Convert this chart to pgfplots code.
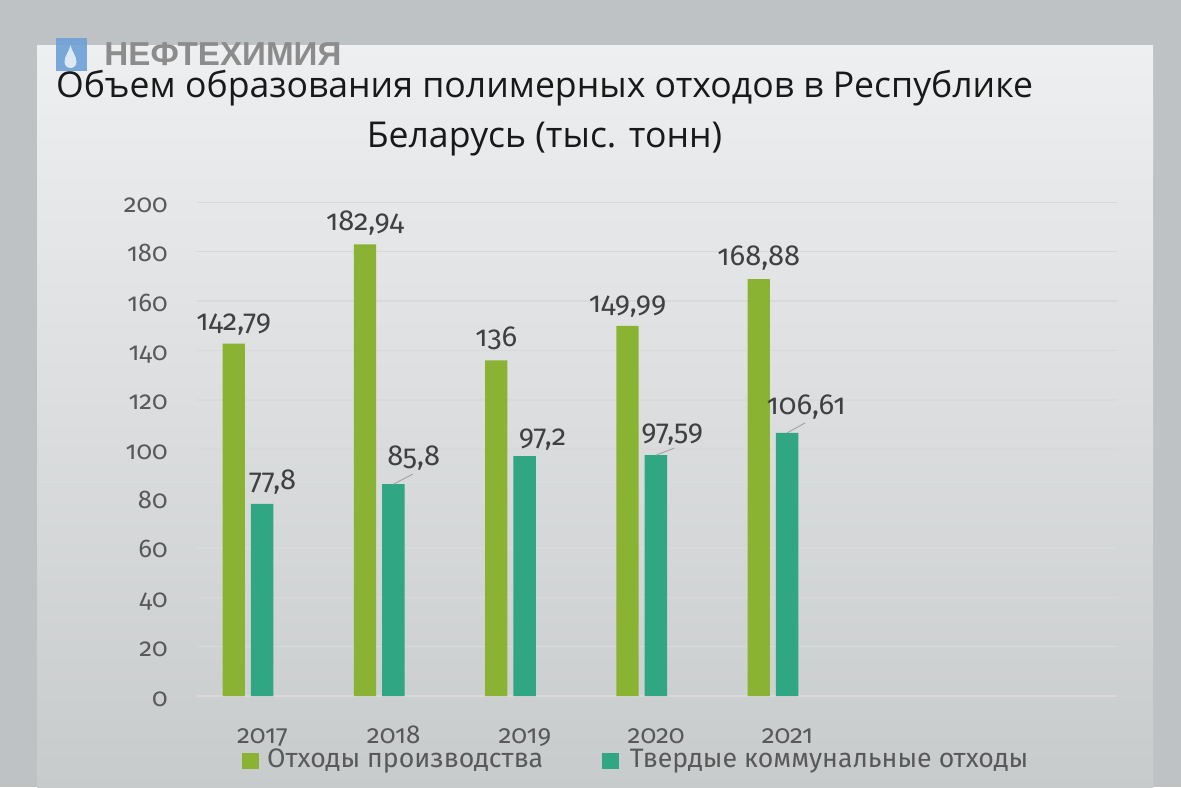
\documentclass[border=0pt]{standalone}
\usepackage{fontspec}
\setmainfont{Fira Sans}[Numbers=OldStyle]
\newfontfamily\titlefont{Open Sans}
\newfontfamily\logofont{Liberation Sans}
\usepackage{pgfplots}
\usepackage{pgfplotstable}
\pgfplotsset{compat=1.18}

\definecolor{bgout}{RGB}{190,194,196}
\definecolor{paneltop}{RGB}{238,239,240}
\definecolor{panelmid}{RGB}{237,238,238}
\definecolor{panelbot}{RGB}{200,203,204}
\definecolor{cprod}{RGB}{138,179,52}
\definecolor{ctko}{RGB}{49,166,131}
\definecolor{lbl}{RGB}{64,64,64}
\definecolor{tickc}{RGB}{89,89,89}
\definecolor{gridc}{RGB}{217,217,217}
\definecolor{logoblue}{RGB}{108,160,214}
\definecolor{logogray}{RGB}{140,140,140}

% Отходы производства
\pgfplotstableread{
x y label
0 142.79 142,79
1 182.94 182,94
2 136    136
3 149.99 149,99
4 168.88 168,88
}\tblprod

% Твердые коммунальные отходы (dx, dy: label offset in pt)
\pgfplotstableread{
x y label dx dy
0 77.8   77,8   5.25  7
1 85.8   85,8   10.15 9.5
2 97.2   97,2   9     5.35
3 97.59  97,59  8.15  7.5
4 106.61 106,61 9.5   9.3
}\tbltko

\begin{document}
\begin{tikzpicture}
\begin{scope}[x=0.5pt,y=-0.5pt]
  \useasboundingbox (0,0) rectangle (1181,787);
  \fill[bgout] (0,0) rectangle (1181,787);
  \shade[top color=paneltop, middle color=panelmid, bottom color=panelbot]
    (37,45) rectangle (1153,787);
  % logo
  \fill[logoblue, opacity=0.9] (55.5,38) rectangle (87,71);
  \fill[white, opacity=0.75] (70.5,45) .. controls (69,52) and (64.5,56) .. (64.5,62)
    arc(180:0:6) .. controls (76.5,56) and (72,52) .. (70.5,45);
  \node[anchor=base west, inner sep=0pt, text=logogray,
    font=\logofont\bfseries\fontsize{16.6}{19}\selectfont] at (104,65) {НЕФТЕХИМИЯ};
  % title
  \node[anchor=base, inner sep=0pt, text=black!90,
    font=\titlefont\fontsize{17.8}{20}\selectfont] at (544.5,97)
    {Объем образования полимерных отходов в Республике};
  \node[anchor=base, inner sep=0pt, text=black!90,
    font=\titlefont\fontsize{17.8}{20}\selectfont] at (544.5,147)
    {Беларусь (тыс. тонн)};
  % legend
  \fill[cprod] (242.3,753.3) rectangle (259,769.3);
  \node[anchor=base west, inner sep=0pt, text=tickc, font=\fontsize{13.35}{16}\selectfont]
    at (266.7,767) {Отходы производства};
  \fill[ctko] (602,753.3) rectangle (618.5,769.3);
  \node[anchor=base west, inner sep=0pt, text=tickc, font=\fontsize{13.35}{16}\selectfont]
    at (629.5,767) {Твердые коммунальные отходы};
\end{scope}

\begin{axis}[
  at={(98.25pt,-348pt)}, anchor=south west,
  scale only axis, width=460.25pt, height=246.85pt,
  xmin=-0.392, xmax=6.621, ymin=0, ymax=200,
  ybar=3pt, bar width=11.2pt,
  axis line style={draw=none},
  tick style={draw=none},
  ytick={0,20,...,200},
  ymajorgrids, grid style={gridc, line width=0.75pt},
  xtick={0,...,4},
  xticklabels={2017,2018,2019,2020,2021},
  xticklabel style={anchor=base, xshift=7.25pt, yshift=-19.5pt, inner sep=0pt,
    text=tickc, font=\fontsize{13}{15}\selectfont},
  yticklabel style={anchor=base east, xshift=-14.25pt, yshift=-5pt, inner sep=0pt,
    text=tickc, font=\fontsize{12.8}{14}\selectfont},
  /pgf/number format/assume math mode=true,
  nodes near coords,
  point meta=explicit symbolic,
  every node near coord/.append style={anchor=base, inner sep=0pt, text=lbl,
    font=\fontsize{14.5}{16}\selectfont},
  clip=false,
]
\addplot[fill=cprod, draw=none,
  every node near coord/.append style={yshift=6.75pt}]
  table[x=x, y=y, meta=label] {\tblprod};
\addplot[fill=ctko, draw=none,
  visualization depends on={\thisrow{dx} \as \dx},
  visualization depends on={\thisrow{dy} \as \dy},
  every node near coord/.append style={xshift=\dx pt, yshift=\dy pt}]
  table[x=x, y=y, meta=label] {\tbltko};
% leader lines
\draw[gray!70, line width=0.5pt] ([xshift=7.1pt]axis cs:1,85.8) -- ++(9.6pt,5pt);
\draw[gray!70, line width=0.5pt] ([xshift=7.1pt]axis cs:3,97.59) -- ++(9.2pt,3.5pt);
\draw[gray!70, line width=0.5pt] ([xshift=7.1pt]axis cs:4,106.61) -- ++(9pt,5pt);
\end{axis}
\end{tikzpicture}
\end{document}
